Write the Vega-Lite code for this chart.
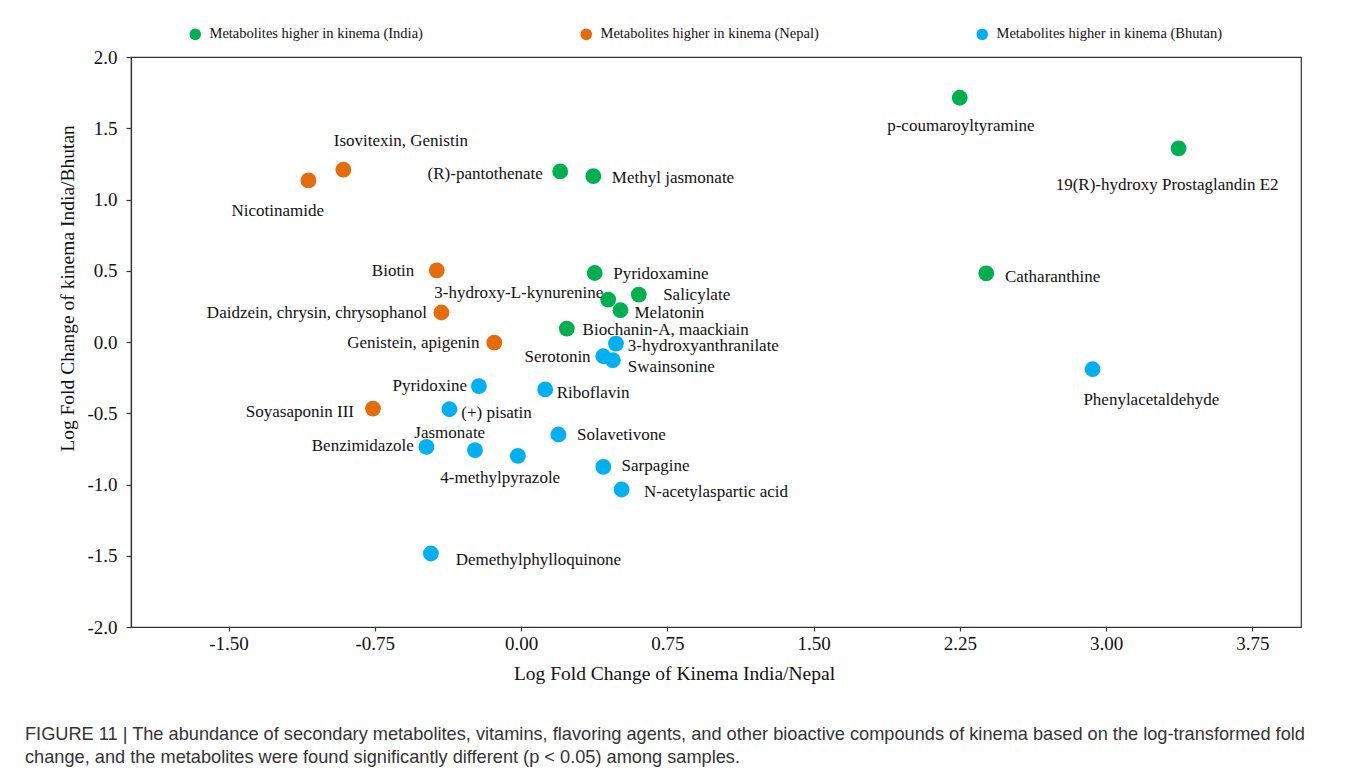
{
  "$schema": "https://vega.github.io/schema/vega-lite/v6.json",
  "width": 1170,
  "height": 570,
  "autosize": {"type": "none"},
  "padding": {"left": 131, "top": 57, "right": 56, "bottom": 150},
  "background": "white",
  "config": {
    "locale": {"number": {"decimal": ".", "thousands": ",", "grouping": [3], "currency": ["$", ""], "minus": "-"}},
    "font": "Liberation Serif",
    "view": {"stroke": "#333333", "strokeWidth": 1.2},
    "axis": {
      "grid": false,
      "domainColor": "#333333",
      "domainWidth": 1.2,
      "tickColor": "#333333",
      "tickWidth": 1.2,
      "labelFont": "Liberation Serif",
      "labelFontSize": 19,
      "labelColor": "#111111",
      "titleFont": "Liberation Serif",
      "titleFontSize": 19.5,
      "titleFontWeight": "normal",
      "titleColor": "#111111"
    }
  },
  "title": {
    "text": [
      "FIGURE 11 | The abundance of secondary metabolites, vitamins, flavoring agents, and other bioactive compounds of kinema based on the log-transformed fold",
      "change, and the metabolites were found significantly different (p < 0.05) among samples."
    ],
    "orient": "bottom",
    "anchor": "start",
    "frame": "group",
    "dx": -106,
    "offset": 43,
    "font": "Liberation Sans",
    "fontSize": 18.2,
    "fontWeight": "normal",
    "color": "#333333",
    "lineHeight": 23
  },
  "data": {
    "values": [
      {"group": "India", "metabolite": "p-coumaroyltyramine", "lfc_nepal": 2.250, "lfc_bhutan": 1.714, "label_x": 1.878, "label_y": 1.481},
      {"group": "India", "metabolite": "19(R)-hydroxy Prostaglandin E2", "lfc_nepal": 3.372, "lfc_bhutan": 1.359, "label_x": 2.742, "label_y": 1.067},
      {"group": "India", "metabolite": "(R)-pantothenate", "lfc_nepal": 0.201, "lfc_bhutan": 1.197, "label_x": -0.479, "label_y": 1.147},
      {"group": "India", "metabolite": "Methyl jasmonate", "lfc_nepal": 0.371, "lfc_bhutan": 1.164, "label_x": 0.466, "label_y": 1.119},
      {"group": "India", "metabolite": "Catharanthine", "lfc_nepal": 2.386, "lfc_bhutan": 0.482, "label_x": 2.482, "label_y": 0.421},
      {"group": "India", "metabolite": "Pyridoxamine", "lfc_nepal": 0.378, "lfc_bhutan": 0.484, "label_x": 0.473, "label_y": 0.442},
      {"group": "India", "metabolite": "3-hydroxy-L-kynurenine", "lfc_nepal": 0.447, "lfc_bhutan": 0.298, "label_x": -0.445, "label_y": 0.309},
      {"group": "India", "metabolite": "Salicylate", "lfc_nepal": 0.604, "lfc_bhutan": 0.333, "label_x": 0.729, "label_y": 0.298},
      {"group": "India", "metabolite": "Melatonin", "lfc_nepal": 0.510, "lfc_bhutan": 0.223, "label_x": 0.582, "label_y": 0.168},
      {"group": "India", "metabolite": "Biochanin-A, maackiain", "lfc_nepal": 0.235, "lfc_bhutan": 0.094, "label_x": 0.316, "label_y": 0.049},
      {"group": "Nepal", "metabolite": "Isovitexin, Genistin", "lfc_nepal": -0.911, "lfc_bhutan": 1.209, "label_x": -0.960, "label_y": 1.374},
      {"group": "Nepal", "metabolite": "Nicotinamide", "lfc_nepal": -1.090, "lfc_bhutan": 1.134, "label_x": -1.485, "label_y": 0.884},
      {"group": "Nepal", "metabolite": "Biotin", "lfc_nepal": -0.432, "lfc_bhutan": 0.503, "label_x": -0.765, "label_y": 0.463},
      {"group": "Nepal", "metabolite": "Daidzein, chrysin, chrysophanol", "lfc_nepal": -0.408, "lfc_bhutan": 0.207, "label_x": -1.611, "label_y": 0.168},
      {"group": "Nepal", "metabolite": "Genistein, apigenin", "lfc_nepal": -0.137, "lfc_bhutan": -0.004, "label_x": -0.891, "label_y": -0.042},
      {"group": "Nepal", "metabolite": "Soyasaponin III", "lfc_nepal": -0.759, "lfc_bhutan": -0.467, "label_x": -1.411, "label_y": -0.526},
      {"group": "Bhutan", "metabolite": "3-hydroxyanthranilate", "lfc_nepal": 0.487, "lfc_bhutan": -0.011, "label_x": 0.548, "label_y": -0.063},
      {"group": "Bhutan", "metabolite": "Serotonin", "lfc_nepal": 0.422, "lfc_bhutan": -0.100, "label_x": 0.018, "label_y": -0.140},
      {"group": "Bhutan", "metabolite": "Swainsonine", "lfc_nepal": 0.471, "lfc_bhutan": -0.128, "label_x": 0.548, "label_y": -0.211},
      {"group": "Bhutan", "metabolite": "Pyridoxine", "lfc_nepal": -0.216, "lfc_bhutan": -0.310, "label_x": -0.659, "label_y": -0.344},
      {"group": "Bhutan", "metabolite": "Riboflavin", "lfc_nepal": 0.124, "lfc_bhutan": -0.333, "label_x": 0.183, "label_y": -0.393},
      {"group": "Bhutan", "metabolite": "(+) pisatin", "lfc_nepal": -0.367, "lfc_bhutan": -0.472, "label_x": -0.306, "label_y": -0.533},
      {"group": "Bhutan", "metabolite": "Solavetivone", "lfc_nepal": 0.192, "lfc_bhutan": -0.649, "label_x": 0.287, "label_y": -0.688},
      {"group": "Bhutan", "metabolite": "Benzimidazole", "lfc_nepal": -0.485, "lfc_bhutan": -0.736, "label_x": -1.073, "label_y": -0.765},
      {"group": "Bhutan", "metabolite": "Jasmonate", "lfc_nepal": -0.236, "lfc_bhutan": -0.759, "label_x": -0.547, "label_y": -0.677},
      {"group": "Bhutan", "metabolite": "4-methylpyrazole", "lfc_nepal": -0.016, "lfc_bhutan": -0.799, "label_x": -0.414, "label_y": -0.986},
      {"group": "Bhutan", "metabolite": "Sarpagine", "lfc_nepal": 0.422, "lfc_bhutan": -0.876, "label_x": 0.516, "label_y": -0.905},
      {"group": "Bhutan", "metabolite": "N-acetylaspartic acid", "lfc_nepal": 0.516, "lfc_bhutan": -1.035, "label_x": 0.631, "label_y": -1.088},
      {"group": "Bhutan", "metabolite": "Demethylphylloquinone", "lfc_nepal": -0.462, "lfc_bhutan": -1.484, "label_x": -0.335, "label_y": -1.565},
      {"group": "Bhutan", "metabolite": "Phenylacetaldehyde", "lfc_nepal": 2.931, "lfc_bhutan": -0.191, "label_x": 2.884, "label_y": -0.442}
    ]
  },
  "layer": [
    {
      "mark": {"type": "circle", "size": 250, "opacity": 1},
      "encoding": {
        "x": {
          "field": "lfc_nepal",
          "type": "quantitative",
          "title": "Log Fold Change of Kinema India/Nepal",
          "scale": {"domain": [-2, 4], "nice": false, "zero": false},
          "axis": {
            "values": [-1.5, -0.75, 0, 0.75, 1.5, 2.25, 3, 3.75],
            "format": ".2f",
            "tickSize": 4,
            "labelPadding": 3,
            "titleX": 543,
            "titlePadding": 11
          }
        },
        "y": {
          "field": "lfc_bhutan",
          "type": "quantitative",
          "title": "Log Fold Change of kinema India/Bhutan",
          "scale": {"domain": [-2, 2], "nice": false, "zero": false},
          "axis": {
            "values": [-2, -1.5, -1, -0.5, 0, 0.5, 1, 1.5, 2],
            "format": ".1f",
            "tickSize": 5,
            "labelPadding": 9,
            "titleY": 231,
            "titlePadding": 9
          }
        },
        "color": {
          "field": "group",
          "type": "nominal",
          "scale": {"domain": ["India", "Nepal", "Bhutan"], "range": ["#00B050", "#E46C0A", "#00B0F0"]},
          "legend": {
            "title": null,
            "orient": "none",
            "legendX": 57,
            "legendY": -30,
            "direction": "horizontal",
            "columns": 3,
            "padding": 0,
            "columnPadding": 156,
            "symbolType": "circle",
            "symbolSize": 133,
            "symbolOpacity": 1,
            "symbolStrokeWidth": 0,
            "labelFont": "Liberation Serif",
            "labelFontSize": 14.5,
            "labelColor": "#111111",
            "labelOffset": 7,
            "labelLimit": 400,
            "labelExpr": "'Metabolites higher in kinema (' + datum.label + ')'"
          }
        }
      }
    },
    {
      "mark": {"type": "text", "align": "left", "baseline": "alphabetic", "font": "Liberation Serif", "fontSize": 17, "color": "#111111"},
      "encoding": {
        "x": {"field": "label_x", "type": "quantitative", "title": "Log Fold Change of Kinema India/Nepal"},
        "y": {"field": "label_y", "type": "quantitative", "title": "Log Fold Change of kinema India/Bhutan"},
        "text": {"field": "metabolite"}
      }
    }
  ]
}
